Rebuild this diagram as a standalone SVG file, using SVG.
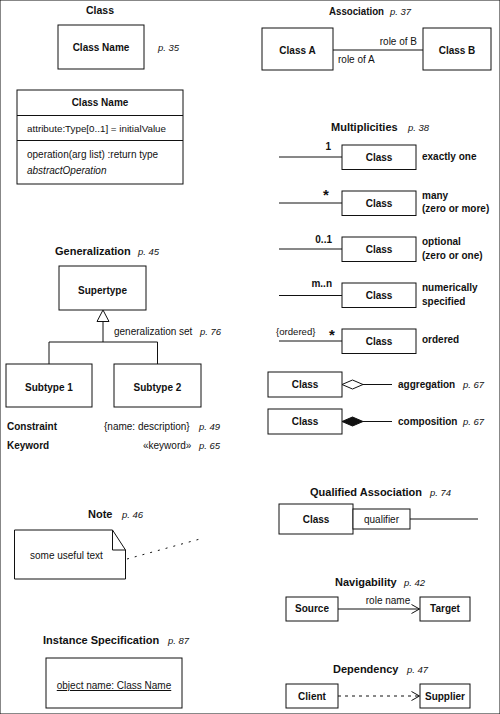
<svg xmlns="http://www.w3.org/2000/svg" width="500" height="714" viewBox="0 0 500 714">
<style>
text{font-family:"Liberation Sans",Arial,sans-serif;fill:#111}
.t{font-size:11px;font-weight:bold}
.p{font-size:9.5px;font-style:italic}
.b{font-size:10px;font-weight:bold}
.r{font-size:10px}
.i{font-size:10px;font-style:italic}
.m{text-anchor:middle}
.e{text-anchor:end}
.star{font-size:15px;font-weight:bold}
rect,.box{fill:#fff;stroke:#111;stroke-width:1}
line,polyline,path.ln{stroke:#111;stroke-width:1;fill:none}
.dash{stroke-dasharray:3,4}
</style>
<rect x="0" y="0" width="500" height="714" fill="#fff" stroke="none"/>

<!-- Class -->
<g id="class-title"><text class="t m" x="100" y="14" style="font-size:10.5px">Class</text></g>
<g id="class-simple">
<rect x="58" y="25" width="86" height="44"/>
<text class="b m" x="101" y="51">Class Name</text>
<text class="p" x="158" y="51">p. 35</text>
</g>
<g id="class-full">
<rect x="17" y="90" width="166" height="94"/>
<line x1="17" y1="115.5" x2="183" y2="115.5"/>
<line x1="17" y1="140.5" x2="183" y2="140.5"/>
<text class="b m" x="100" y="106">Class Name</text>
<text class="r" x="27" y="131.5" style="font-size:9.8px">attribute:Type[0..1] = initialValue</text>
<text class="r" x="27" y="158">operation(arg list) :return type</text>
<text class="i" x="27" y="174">abstractOperation</text>
</g>

<!-- Association -->
<g id="assoc-title"><text class="t" x="329" y="15" textLength="55" lengthAdjust="spacingAndGlyphs">Association</text><text class="p" x="390" y="15">p. 37</text></g>
<g id="class-a"><rect x="262" y="28" width="71" height="42"/><text class="b m" x="297.5" y="54">Class A</text></g>
<g id="class-b"><rect x="423" y="28" width="68" height="42"/><text class="b m" x="457" y="54">Class B</text></g>

<!-- Multiplicities -->
<g id="mult-title"><text class="t" x="331" y="131">Multiplicities</text><text class="p" x="408" y="131">p. 38</text></g>
<g id="mult-1"><rect x="342" y="145" width="74" height="24.5"/><text class="b m" x="379" y="161">Class</text>
<text class="b e" x="331" y="150">1</text><text class="b" x="422" y="160">exactly one</text></g>
<g id="mult-many"><rect x="342" y="191" width="74" height="24.5"/><text class="b m" x="379" y="207">Class</text>
<text class="star m" x="326" y="200">*</text><text class="b" x="422" y="199">many</text><text class="b" x="422" y="212">(zero or more)</text></g>
<g id="mult-opt"><rect x="342" y="237" width="74" height="24.5"/><text class="b m" x="379" y="253">Class</text>
<text class="b e" x="332" y="243">0..1</text><text class="b" x="422" y="245">optional</text><text class="b" x="422" y="259">(zero or one)</text></g>
<g id="mult-num"><rect x="342" y="283" width="74" height="24.5"/><text class="b m" x="379" y="299">Class</text>
<text class="b e" x="332" y="287">m..n</text><text class="b" x="422" y="291">numerically</text><text class="b" x="422" y="305">specified</text></g>
<g id="mult-ord"><rect x="342" y="329" width="74" height="24.5"/><text class="b m" x="379" y="345">Class</text>
<text class="r" x="276" y="335" style="font-size:9.6px">{ordered}</text><text class="star m" x="332" y="340">*</text><text class="b" x="422" y="343">ordered</text></g>

<!-- Aggregation / composition -->
<g id="aggregation"><rect x="268" y="372" width="74" height="25"/><text class="b m" x="305" y="388">Class</text>
<text class="b" x="398" y="388">aggregation</text><text class="p" x="463" y="388">p. 67</text></g>
<g id="composition"><rect x="268" y="409" width="74" height="25"/><text class="b m" x="305" y="425">Class</text>
<text class="b" x="398" y="425">composition</text><text class="p" x="463" y="425">p. 67</text></g>

<!-- Generalization -->
<g id="gen-title"><text class="t" x="55" y="255">Generalization</text><text class="p" x="138" y="255">p. 45</text></g>
<g id="supertype"><rect x="59" y="266" width="87" height="44"/><text class="b m" x="102.5" y="294">Supertype</text></g>
<g id="subtype1"><rect x="6" y="364" width="86" height="43"/><text class="b m" x="49" y="391">Subtype 1</text></g>
<g id="subtype2"><rect x="114" y="364" width="87" height="43"/><text class="b m" x="157.5" y="391">Subtype 2</text></g>
<g id="gen-set-label"><text class="r" x="114" y="335">generalization set</text><text class="p" x="200" y="335">p. 76</text></g>
<g id="constraint"><text class="b" x="7" y="430">Constraint</text><text class="r" x="104" y="430">{name: description}</text><text class="p" x="199" y="430">p. 49</text></g>
<g id="keyword"><text class="b" x="7" y="449">Keyword</text><text class="r" x="143" y="449">«keyword»</text><text class="p" x="199" y="449">p. 65</text></g>

<!-- Note -->
<g id="note-title"><text class="t" x="88" y="518">Note</text><text class="p" x="122" y="518">p. 46</text></g>
<g id="note">
<path class="box" d="M14.5,530 H112.5 L125.5,550 V579 H14.5 Z"/>
<path class="ln" d="M112.5,530 V550 H125.5"/>
<text class="r" x="30" y="559">some useful text</text>
</g>

<!-- Instance specification -->
<g id="inst-title"><text class="t" x="43" y="644">Instance Specification</text><text class="p" x="168" y="644">p. 87</text></g>
<g id="instance"><rect x="46" y="658" width="136" height="50"/><text class="r m" x="114" y="689" text-decoration="underline">object name: Class Name</text></g>

<!-- Qualified association -->
<g id="qual-title"><text class="t" x="310" y="496">Qualified Association</text><text class="p" x="430" y="496">p. 74</text></g>
<g id="qual-class"><rect x="279" y="504" width="74" height="30"/><text class="b m" x="316" y="523">Class</text></g>
<g id="qualifier"><rect x="353" y="509" width="57" height="20"/><text class="r m" x="381.5" y="523">qualifier</text></g>

<!-- Navigability -->
<g id="nav-title"><text class="t" x="335" y="586">Navigability</text><text class="p" x="404" y="586">p. 42</text></g>
<g id="source"><rect x="286" y="597" width="52" height="24"/><text class="b m" x="312" y="612">Source</text></g>
<g id="target"><rect x="420" y="597" width="50" height="24"/><text class="b m" x="445" y="612">Target</text></g>

<!-- Dependency -->
<g id="dep-title"><text class="t" x="333" y="673">Dependency</text><text class="p" x="407" y="673">p. 47</text></g>
<g id="client"><rect x="286" y="684" width="52" height="24"/><text class="b m" x="312" y="700">Client</text></g>
<g id="supplier"><rect x="420" y="684" width="50" height="24"/><text class="b m" x="445" y="700">Supplier</text></g>

<!-- Connectors -->
<g id="connectors">
<line x1="333" y1="50" x2="423" y2="50"/>
<text class="r e" x="417" y="45">role of B</text>
<text class="r" x="338" y="63">role of A</text>

<line x1="279" y1="157" x2="342" y2="157"/>
<line x1="279" y1="203" x2="342" y2="203"/>
<line x1="279" y1="249" x2="342" y2="249"/>
<line x1="279" y1="295.5" x2="342" y2="295.5"/>
<line x1="279" y1="341" x2="342" y2="341"/>

<polygon points="342,384.5 352.5,380 363,384.5 352.5,389" fill="#fff" stroke="#111" stroke-width="1"/>
<line x1="363" y1="384.5" x2="392" y2="384.5"/>
<polygon points="342,421.5 352.5,417 363,421.5 352.5,426" fill="#111" stroke="#111" stroke-width="1"/>
<line x1="363" y1="421.5" x2="392" y2="421.5"/>

<line x1="103" y1="321.5" x2="103" y2="342"/>
<polygon points="103,310 97,321.5 109,321.5" fill="#fff" stroke="#111" stroke-width="1"/>
<polyline points="49,364 49,342 157.5,342 157.5,364"/>

<line x1="127" y1="559" x2="200" y2="539" style="stroke-dasharray:2,6"/>

<line x1="410" y1="519" x2="478" y2="519"/>

<line x1="338" y1="609" x2="419.5" y2="609"/>
<polyline points="411.5,604.5 419.5,609 411.5,613.5"/>
<text class="r m" x="388" y="604">role name</text>

<line class="dash" x1="338" y1="696" x2="419.5" y2="696"/>
<polyline points="411.5,691.5 419.5,696 411.5,700.5"/>
</g>
</svg>
